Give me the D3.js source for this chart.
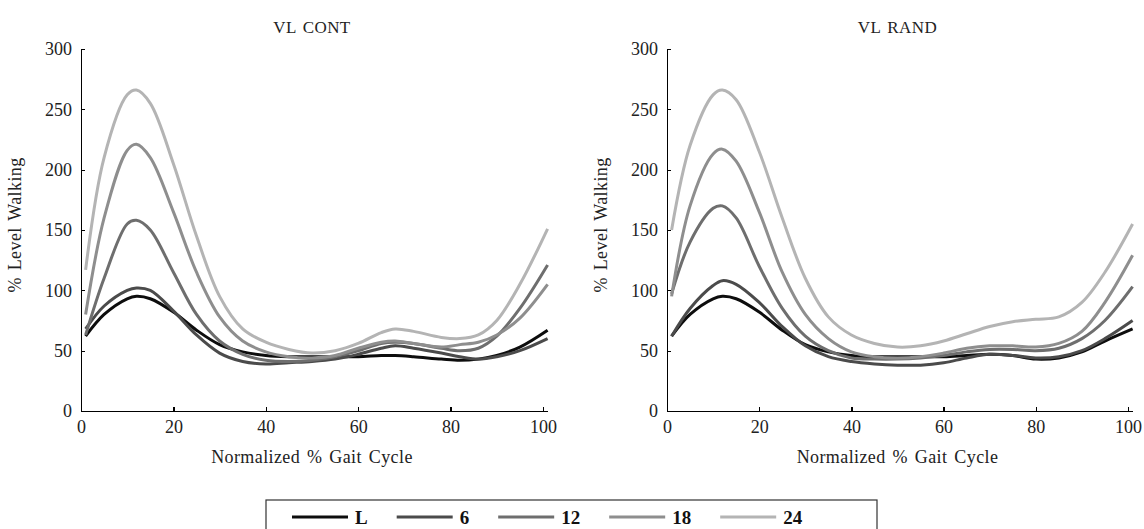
<!DOCTYPE html>
<html lang="en">
<head>
    <meta charset="UTF-8">
    <title>VL CONT / VL RAND</title>
    <script src="https://d3js.org/d3.v7.min.js"></script>
    <style>
        body {
            margin: 0;
            padding: 0;
            background: #fff;
        }
        svg {
            display: block;
            font-family: "Liberation Serif", "DejaVu Serif", serif;
        }
        .axis path,
        .axis line {
            stroke: #000;
            stroke-width: 1.3px;
            shape-rendering: crispEdges;
        }
        .axis text {
            font-family: "Liberation Serif", "DejaVu Serif", serif;
            font-size: 18px;
            fill: #222;
        }
        .series {
            fill: none;
            stroke-width: 3px;
        }
        .ttl {
            fill: #222;
            letter-spacing: 0.4px;
            word-spacing: 2px;
        }
    </style>
</head>
<body>
    <svg width="1144" height="529"></svg>

    <script>
        // Data
        const seriesNames = ["L", "6", "12", "18", "24"];
        const seriesColors = ["#0d0d0d", "#4b4b4b", "#6e6e6e", "#8e8e8e", "#b4b4b4"];
        const xTicks = [0, 20, 40, 60, 80, 100];
        const yTicks = [0, 50, 100, 150, 200, 250, 300];

        const contX = [1, 5, 10, 12, 15, 20, 25, 30, 35, 40, 45, 50, 55, 60, 65, 68, 72, 78, 82, 86, 90, 95, 101];
        const contL  = [62, 80, 93, 95, 93, 82, 67, 55, 49, 46, 45, 45, 45, 45, 46, 46, 45, 43, 42, 43, 46, 53, 67];
        const cont6  = [68, 87, 100, 102, 100, 83, 63, 48, 41, 39, 40, 41, 43, 47, 52, 54, 52, 48, 45, 43, 45, 50, 60];
        const cont12 = [63, 110, 155, 158, 150, 115, 80, 58, 47, 42, 41, 42, 45, 50, 56, 57, 56, 52, 50, 52, 62, 85, 121];
        const cont18 = [80, 160, 216, 221, 210, 165, 115, 78, 58, 49, 45, 44, 46, 52, 57, 58, 56, 53, 55, 57, 63, 77, 105];
        const cont24 = [117, 210, 262, 266, 255, 205, 145, 95, 68, 57, 51, 48, 50, 56, 65, 68, 66, 61, 60, 63, 75, 105, 151];

        const randX = [1, 5, 10, 12, 15, 20, 25, 30, 35, 40, 45, 50, 55, 60, 65, 70, 75, 80, 85, 90, 95, 101];
        const randL  = [62, 80, 93, 95, 93, 82, 67, 55, 49, 46, 45, 45, 45, 45, 46, 47, 46, 43, 44, 49, 58, 68];
        const rand6  = [62, 85, 104, 108, 105, 90, 70, 54, 45, 41, 39, 38, 38, 40, 44, 47, 46, 44, 45, 50, 60, 75];
        const rand12 = [97, 140, 168, 170, 160, 120, 85, 62, 50, 44, 43, 43, 44, 46, 49, 51, 51, 50, 52, 60, 75, 103];
        const rand18 = [95, 170, 213, 217, 207, 165, 115, 80, 60, 49, 45, 44, 45, 48, 52, 54, 54, 53, 56, 66, 90, 129];
        const rand24 = [150, 220, 262, 266, 258, 215, 160, 110, 78, 63, 56, 53, 54, 58, 64, 70, 74, 76, 78, 90, 115, 155];

        const panels = [
            { title: "VL CONT", xs: contX, values: [contL, cont6, cont12, cont18, cont24], left: 81, right: 547.6 },
            { title: "VL RAND", xs: randX, values: [randL, rand6, rand12, rand18, rand24], left: 667, right: 1132.6 }
        ];

        const plotTop = 49, plotBottom = 411;
        const svg = d3.select("svg");

        panels.forEach(p => {
            const g = svg.append("g");

            const x = d3.scaleLinear().domain([0, 101]).range([p.left, p.right]);
            const y = d3.scaleLinear().domain([0, 300]).range([plotBottom, plotTop]);

            g.append("g")
                .attr("class", "axis")
                .attr("transform", `translate(0,${plotBottom})`)
                .call(d3.axisBottom(x).tickValues(xTicks).tickSizeInner(-4).tickSizeOuter(0).tickPadding(9))
                .attr("font-family", null)
                .attr("font-size", null);

            g.append("g")
                .attr("class", "axis")
                .attr("transform", `translate(${p.left},0)`)
                .call(d3.axisLeft(y).tickValues(yTicks).tickSizeInner(-4).tickSizeOuter(0).tickPadding(9))
                .attr("font-family", null)
                .attr("font-size", null);

            const line = d3.line()
                .x((d, i) => x(p.xs[i]))
                .y(d => y(d))
                .curve(d3.curveCatmullRom.alpha(0.5));

            p.values.forEach((vals, k) => {
                g.append("path")
                    .datum(vals)
                    .attr("class", "series")
                    .attr("stroke", seriesColors[k])
                    .attr("d", line);
            });

            const cx = (x(0) + x(100)) / 2;

            g.append("text")
                .attr("class", "ttl")
                .attr("x", cx)
                .attr("y", 33)
                .attr("text-anchor", "middle")
                .attr("font-size", 17)
                .text(p.title);

            g.append("text")
                .attr("class", "ttl")
                .attr("x", cx)
                .attr("y", 463)
                .attr("text-anchor", "middle")
                .attr("font-size", 18)
                .text("Normalized % Gait Cycle");

            g.append("text")
                .attr("class", "ttl")
                .attr("transform", `translate(${p.left - 60},${(plotTop + plotBottom) / 2 - 5}) rotate(-90)`)
                .attr("text-anchor", "middle")
                .attr("font-size", 18)
                .text("% Level Walking");
        });

        // Legend
        const legend = svg.append("g");
        legend.append("rect")
            .attr("x", 266)
            .attr("y", 500)
            .attr("width", 611)
            .attr("height", 40)
            .attr("fill", "#fff")
            .attr("stroke", "#333")
            .attr("stroke-width", 1.2);

        let lx = 292;
        seriesNames.forEach((name, k) => {
            legend.append("line")
                .attr("x1", lx)
                .attr("x2", lx + 56)
                .attr("y1", 517)
                .attr("y2", 517)
                .attr("stroke", seriesColors[k])
                .attr("stroke-width", 3);
            const t = legend.append("text")
                .attr("x", lx + 63)
                .attr("y", 524)
                .attr("font-size", 19)
                .attr("font-weight", "bold")
                .attr("fill", "#111")
                .text(name);
            lx += 63 + t.node().getComputedTextLength() + 29;
        });
    </script>
</body>
</html>
